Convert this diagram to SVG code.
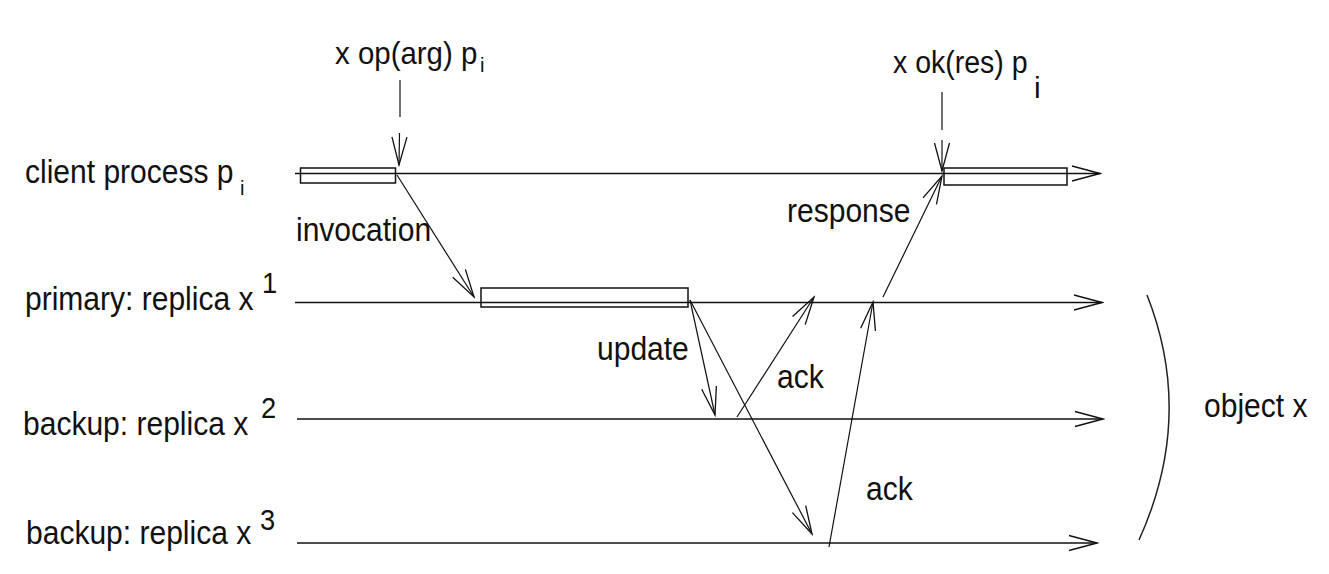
<svg xmlns="http://www.w3.org/2000/svg" width="1329" height="574" viewBox="0 0 1329 574">
<style>
text{font-family:"Liberation Sans",Arial,sans-serif;fill:#111}
.t{font-size:33px}
.top{font-size:31px}
.sup{font-size:30px}
.sub{font-size:20px}
.life{stroke:#111;stroke-width:1.6;fill:none}
.box{stroke:#111;stroke-width:1.5;fill:none}
.msg{stroke:#111;stroke-width:1.2;fill:none}
</style>
<defs>
<marker id="ah" markerUnits="userSpaceOnUse" viewBox="-32 -10 34 20" refX="0" refY="0" markerWidth="34" markerHeight="20" orient="auto">
<path d="M-28,-7.5 L0,0 L-28,7.5" fill="none" stroke="#111" stroke-width="1.3"/>
</marker>
</defs>
<rect width="1329" height="574" fill="#fff"/>

<g id="client">
<line class="life" x1="295" y1="173.5" x2="1100" y2="173.5" marker-end="url(#ah)"/>
<rect class="box" x="300.5" y="168" width="95" height="15"/>
<rect class="box" x="944" y="168" width="123" height="17"/>
<text class="t" transform="translate(25 183) scale(.91 1)">client process p</text>
<text class="sub" x="240" y="195">i</text>
</g>

<g id="primary">
<line class="life" x1="295" y1="302.5" x2="1102" y2="302.5" marker-end="url(#ah)"/>
<rect class="box" x="481" y="288" width="207" height="19"/>
<text class="t" transform="translate(25 310) scale(.91 1)">primary: replica x</text>
<text class="sup" transform="translate(262 293) scale(.91 1)">1</text>
</g>

<g id="backup2">
<line class="life" x1="297" y1="419" x2="1103" y2="419" marker-end="url(#ah)"/>
<text class="t" transform="translate(23 435) scale(.91 1)">backup: replica x</text>
<text class="sup" transform="translate(261 418) scale(.91 1)">2</text>
</g>

<g id="backup3">
<line class="life" x1="297" y1="543" x2="1097" y2="543" marker-end="url(#ah)"/>
<text class="t" transform="translate(26 544) scale(.91 1)">backup: replica x</text>
<text class="sup" transform="translate(260 530) scale(.91 1)">3</text>
</g>

<g id="object">
<path d="M1147,295 Q1195,416.5 1139,540" fill="none" stroke="#222" stroke-width="1.5"/>
<text class="t" transform="translate(1204 417) scale(.91 1)">object x</text>
</g>

<g id="event-invoke">
<text class="top" transform="translate(335 64) scale(.95 1)">x op(arg) p</text>
<text class="sub" x="480" y="72">i</text>
</g>

<g id="event-response">
<text class="top" transform="translate(893 73) scale(.92 1)">x ok(res) p</text>
<text class="sup" x="1034" y="98">i</text>
</g>

<g id="connectors">
<line class="msg" x1="400" y1="80" x2="400" y2="117"/>
<line class="msg" x1="399.5" y1="133" x2="399" y2="165" marker-end="url(#ah)"/>
<line class="msg" x1="942" y1="92" x2="942" y2="130"/>
<line class="msg" x1="942" y1="140" x2="942" y2="171" marker-end="url(#ah)"/>
<line class="msg" x1="397" y1="175" x2="474" y2="297" marker-end="url(#ah)"/>
<line class="msg" x1="690" y1="300" x2="715" y2="415" marker-end="url(#ah)"/>
<line class="msg" x1="690" y1="300" x2="812" y2="534" marker-end="url(#ah)"/>
<line class="msg" x1="737" y1="417" x2="814" y2="297" marker-end="url(#ah)"/>
<line class="msg" x1="829" y1="547" x2="873" y2="302" marker-end="url(#ah)"/>
<line class="msg" x1="883" y1="297" x2="942" y2="176" marker-end="url(#ah)"/>
<text class="t" transform="translate(296 241) scale(.91 1)">invocation</text>
<text class="t" transform="translate(787 222) scale(.91 1)">response</text>
<text class="t" transform="translate(597 360) scale(.91 1)">update</text>
<text class="t" transform="translate(777 388) scale(.91 1)">ack</text>
<text class="t" transform="translate(866 500) scale(.91 1)">ack</text>
</g>
</svg>
